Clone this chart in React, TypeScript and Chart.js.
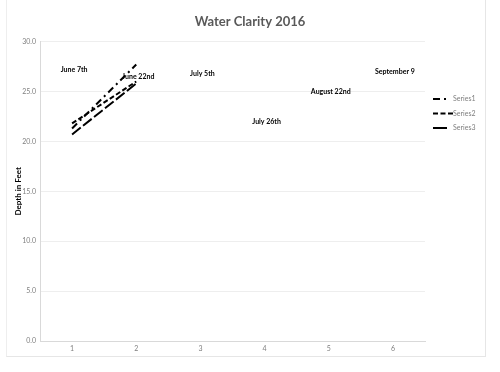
import React, { useEffect, useRef } from "react";
import { Chart, registerables } from "chart.js";

Chart.register(...registerables);

const categories = ["1", "2", "3", "4", "5", "6"];
const series1 = [21.3, 27.7];
const series2 = [21.8, 26.0];
const series3 = [20.7, 25.8];
const dateLabels = ["June 7th", "June 22nd", "July 5th", "July 26th", "August 22nd", "September 9"];
const dateLabelValues = [27.2, 26.5, 26.8, 22.0, 25.0, 27.0];
const seriesNames = ["Series1", "Series2", "Series3"];

const FONT = "Lato, 'Open Sans', sans-serif";

const dateLabelPlugin = {
  id: "dateLabels",
  afterDatasetsDraw(chart: any) {
    const meta = chart.getDatasetMeta(3);
    const ctx = chart.ctx;
    ctx.save();
    ctx.font = `bold 7px ${FONT}`;
    ctx.fillStyle = "#000";
    ctx.textAlign = "center";
    ctx.textBaseline = "middle";
    meta.data.forEach((pt: any, i: number) => {
      ctx.fillText(dateLabels[i], pt.x + 2, pt.y);
    });
    ctx.restore();
  },
};

const legendDashes = [[7, 4, 2, 4], [5, 2.5], []];
const legendWidths = [13, 20, 14];

const legendPlugin = {
  id: "customLegend",
  afterDraw(chart: any) {
    const ctx = chart.ctx;
    const area = chart.chartArea;
    const x0 = area.right + 8;
    const ys = [99, 113.5, 128];
    ctx.save();
    for (let i = 0; i < 3; i++) {
      ctx.strokeStyle = "#000";
      ctx.lineWidth = 2;
      ctx.setLineDash(legendDashes[i]);
      ctx.beginPath();
      ctx.moveTo(x0, ys[i]);
      ctx.lineTo(x0 + legendWidths[i], ys[i]);
      ctx.stroke();
      ctx.setLineDash([]);
      ctx.font = `7px ${FONT}`;
      ctx.fillStyle = "#7f7f7f";
      ctx.textAlign = "left";
      ctx.textBaseline = "middle";
      ctx.fillText(seriesNames[i], x0 + 20, ys[i]);
    }
    ctx.restore();
  },
};

export default function App() {
  const ref = useRef<HTMLCanvasElement>(null);
  useEffect(() => {
    if (!ref.current) return;
    const chart = new Chart(ref.current, {
      type: "line",
      data: {
        labels: categories,
        datasets: [
          { label: seriesNames[0], data: series1, borderColor: "#000", borderWidth: 2, borderDash: [7, 4, 2, 4], pointRadius: 0, fill: false },
          { label: seriesNames[1], data: series2, borderColor: "#000", borderWidth: 2, borderDash: [5, 2.5], pointRadius: 0, fill: false },
          { label: seriesNames[2], data: series3, borderColor: "#000", borderWidth: 2, borderDash: [11, 3], pointRadius: 0, fill: false },
          { label: "Dates", data: dateLabelValues, showLine: false, pointRadius: 0, borderColor: "transparent" },
        ],
      },
      options: {
        animation: false,
        responsive: false,
        layout: { padding: { left: 0, right: 0, top: 0, bottom: 16 } },
        plugins: {
          legend: { display: false },
          tooltip: { enabled: false },
          title: {
            display: true,
            text: "Water Clarity 2016",
            color: "#595959",
            font: { family: FONT, size: 13 },
            padding: { top: 14, bottom: 12 },
          },
        },
        scales: {
          x: {
            type: "category",
            offset: true,
            grid: { display: false, drawTicks: false },
            border: { color: "#d9d9d9" },
            ticks: { color: "#7f7f7f", font: { family: FONT, size: 7 }, padding: 4 },
            afterFit: (s: any) => { s.height = 15; },
          },
          y: {
            min: 0,
            max: 30,
            grid: { color: "#eeeeee", drawTicks: false },
            border: { color: "#d9d9d9" },
            ticks: {
              stepSize: 5,
              color: "#7f7f7f",
              font: { family: FONT, size: 7 },
              padding: 4,
              callback: (v: any) => Number(v).toFixed(1),
            },
            title: {
              display: true,
              text: "Depth in Feet",
              color: "#000",
              font: { family: FONT, size: 8, weight: "bold" },
              padding: { top: 14, bottom: 0 },
            },
            afterFit: (s: any) => { s.width = 40; },
          },
          yRight: {
            position: "right",
            min: 0,
            max: 30,
            grid: { display: false, drawTicks: false },
            border: { display: false },
            ticks: { display: false },
            afterFit: (s: any) => { s.width = 75; },
          },
        },
      },
      plugins: [dateLabelPlugin, legendPlugin],
    });
    return () => chart.destroy();
  }, []);
  return (
    <div style={{ position: "absolute", left: 0, top: 0, width: 500, height: 372, background: "#fff" }}>
      <div style={{ position: "absolute", left: 6, top: 0, width: 478, height: 356, borderLeft: "1px solid #eeeeee", borderRight: "1px solid #e6e6e6", borderBottom: "1px solid #e6e6e6" }} />
      <canvas ref={ref} width={500} height={372} style={{ position: "absolute", left: 0, top: 0 }} />
    </div>
  );
}
